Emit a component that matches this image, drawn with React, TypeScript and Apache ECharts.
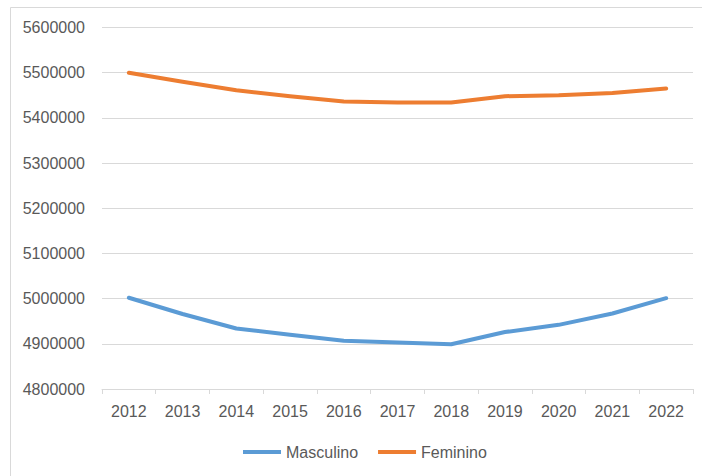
import React, { useEffect, useRef } from "react";
import * as echarts from "echarts";

const years = ["2012", "2013", "2014", "2015", "2016", "2017", "2018", "2019", "2020", "2021", "2022"];
const masculino = [5002000, 4966000, 4934000, 4920000, 4907000, 4903000, 4899000, 4926000, 4942000, 4967000, 5001000];
const feminino = [5500000, 5480000, 5461000, 5448000, 5436000, 5434000, 5434000, 5448000, 5450000, 5455000, 5465000];

export default function App() {
  const ref = useRef<HTMLDivElement>(null);
  useEffect(() => {
    if (!ref.current) return;
    const chart = echarts.init(ref.current, undefined, { renderer: "svg" });
    const font = "Liberation Sans";
    chart.setOption({
      animation: false,
      backgroundColor: "#fff",
      graphic: [
        {
          type: "rect",
          shape: { x: 10.5, y: 7.5, width: 720, height: 500 },
          style: { fill: "none", stroke: "#D9D9D9", lineWidth: 1 },
          silent: true,
          z: -1,
        },
      ],
      grid: { left: 102, right: 9, top: 27.5, bottom: 87, containLabel: false },
      legend: {
        bottom: 16,
        left: 243,
        padding: 0,
        itemWidth: 38,
        itemHeight: 4,
        itemGap: 20,
        icon: "rect",
        textStyle: { fontFamily: font, fontSize: 16, color: "#595959" },
        data: ["Masculino", "Feminino"],
      },
      xAxis: {
        type: "category",
        data: years,
        boundaryGap: true,
        axisLine: { lineStyle: { color: "#D9D9D9", width: 1 } },
        axisTick: { show: true, length: 5, lineStyle: { color: "#D9D9D9" } },
        axisLabel: { fontFamily: font, fontSize: 16, color: "#595959", margin: 14 },
        splitLine: { show: false },
      },
      yAxis: {
        type: "value",
        min: 4800000,
        max: 5600000,
        interval: 100000,
        axisLine: { show: false },
        axisTick: { show: false },
        axisLabel: {
          fontFamily: font,
          fontSize: 16,
          color: "#595959",
          margin: 17,
          formatter: (v: number) => String(v),
        },
        splitLine: { lineStyle: { color: "#D9D9D9", width: 1 } },
      },
      series: [
        {
          name: "Masculino",
          type: "line",
          data: masculino,
          symbol: "none",
          lineStyle: { color: "#5B9BD5", width: 4, cap: "round", join: "round" },
          itemStyle: { color: "#5B9BD5" },
        },
        {
          name: "Feminino",
          type: "line",
          data: feminino,
          symbol: "none",
          lineStyle: { color: "#ED7D31", width: 4, cap: "round", join: "round" },
          itemStyle: { color: "#ED7D31" },
        },
      ],
    });
    return () => chart.dispose();
  }, []);
  return (
    <div
      ref={ref}
      style={{ position: "fixed", left: 0, top: 0, width: 702, height: 476 }}
    />
  );
}
